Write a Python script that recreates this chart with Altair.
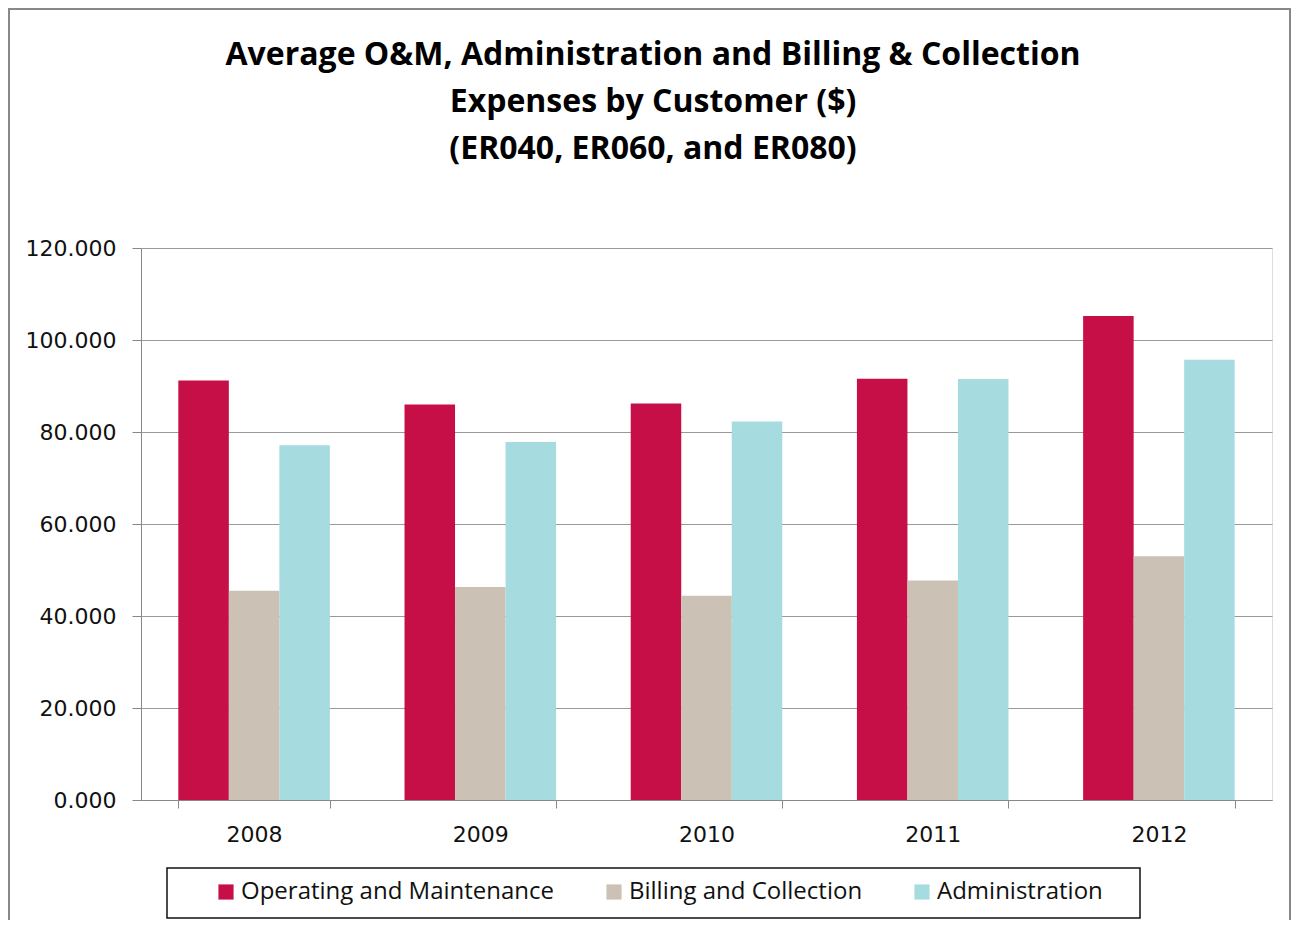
import altair as alt
import pandas as pd

years = ["2008", "2009", "2010", "2011", "2012"]
series = ["Operating and Maintenance", "Billing and Collection", "Administration"]
om = [91.2, 86.0, 86.2, 91.6, 105.2]
bc = [45.5, 46.3, 44.4, 47.7, 53.0]
adm = [77.1, 77.8, 82.3, 91.5, 95.7]
colors = ["#C50F46", "#CBC1B4", "#A6DBDF"]
title_lines = ["Average O&M, Administration and Billing & Collection",
               "Expenses by Customer ($)", "(ER040, ER060, and ER080)"]

rows = []
for i, y in enumerate(years):
    for s, vals in zip(series, [om, bc, adm]):
        rows.append({"year": y, "series": s, "value": vals[i]})
df = pd.DataFrame(rows)

bars = alt.Chart(df).mark_bar().encode(
    x=alt.X("year:N", sort=years,
            scale=alt.Scale(paddingInner=0.33, paddingOuter=0.165),
            axis=alt.Axis(title=None, labelAngle=0, tickBand="extent",
                          labelFont="DejaVu Sans", labelFontSize=22,
                          labelColor="#111", labelPadding=16, tickSize=8,
                          tickColor="#888", domainColor="#888", grid=False)),
    xOffset=alt.XOffset("series:N", sort=series),
    y=alt.Y("value:Q", scale=alt.Scale(domain=[0, 120]),
            axis=alt.Axis(title=None, values=[0, 20, 40, 60, 80, 100, 120],
                          format=".3f", labelFont="DejaVu Sans", labelFontSize=22,
                          labelColor="#111", labelPadding=16, tickSize=9,
                          tickColor="#888", domainColor="#888",
                          gridColor="#999", gridWidth=1.2)),
    color=alt.Color("series:N", sort=series,
                    scale=alt.Scale(domain=series, range=colors),
                    legend=alt.Legend(title=None, orient="none", direction="horizontal",
                                      legendX=73, legendY=632, padding=0,
                                      symbolType="square", symbolSize=230,
                                      symbolStrokeWidth=0, labelFont="Open Sans",
                                      labelFontSize=24, labelColor="#111",
                                      labelLimit=500, labelOffset=3,
                                      columnPadding=47)),
)

deco = pd.DataFrame({"a": [0]})
legend_box = alt.Chart(deco).mark_rect(fill="white", fillOpacity=0, stroke="#111",
                                       strokeWidth=1.5).encode(
    x=alt.value(26), x2=alt.value(999), y=alt.value(620), y2=alt.value(670))
outer_box = alt.Chart(deco).mark_rect(fill="white", fillOpacity=0, stroke="#888",
                                      strokeWidth=2).encode(
    x=alt.value(-132), x2=alt.value(1149), y=alt.value(-239), y2=alt.value(700))
title = alt.Chart(deco).mark_text(
    text=title_lines, font="Open Sans", fontSize=32, fontWeight="bold", color="#000",
    align="center", baseline="middle", lineHeight=47).encode(
    x=alt.value(512), y=alt.value(-193))

chart = alt.layer(outer_box, legend_box, title, bars).properties(
    width=1131, height=552,
    autosize=alt.AutoSizeParams(type="none"),
    padding={"left": 133, "top": 240, "right": 20, "bottom": 120},
).configure_view(stroke=None).configure(background="white")

chart.save("out.html", embed_options={"renderer": "svg", "actions": False})
